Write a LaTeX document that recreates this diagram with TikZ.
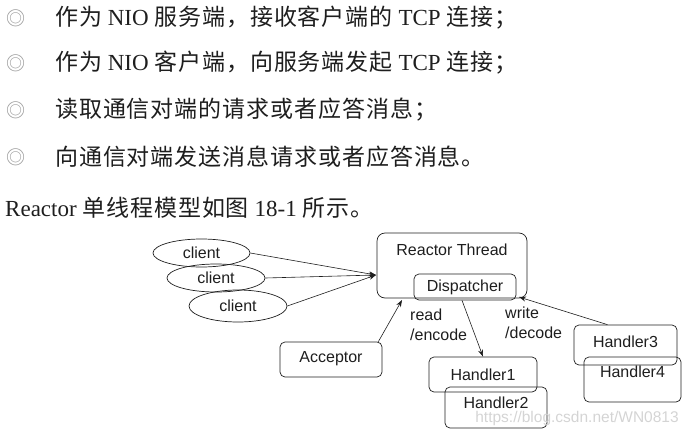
\documentclass[tikz,border=0pt]{standalone}
\usepackage{fontspec}
\setmainfont{Liberation Serif}
\newfontfamily\cjk[LetterSpace=4]{Noto Sans CJK SC}
\newfontfamily\cjkplain{Noto Sans CJK SC}
\newfontfamily\arial{Liberation Sans}
\usetikzlibrary{shapes.geometric,arrows.meta,calc}
\definecolor{ink}{HTML}{1E1E1E}
\definecolor{wm}{HTML}{D4D4D4}
\definecolor{bul}{HTML}{9A9A9A}
\tikzset{
  bodytext/.style={anchor=west, inner sep=0pt, text=ink, font=\fontsize{23}{23}\selectfont},
  bulletmark/.style={inner sep=0pt, text=bul, font=\cjkplain\fontsize{19}{19}\selectfont},
  dfont/.style={font=\arial\fontsize{16}{20}\selectfont, text=ink},
  client/.style={ellipse, draw=ink, line width=0.7pt, inner sep=0pt, dfont},
  box/.style={draw=ink, line width=0.7pt, rounded corners=5pt, inner sep=0pt, dfont},
  con/.style={draw=ink, line width=0.6pt, -{Stealth[length=7pt,width=5pt]}},
  lbl/.style={anchor=west, inner sep=0pt, align=left, dfont},
}
\begin{document}
\begin{tikzpicture}[x=1pt,y=-1pt]
\useasboundingbox (0,0) rectangle (690,434);
% bullet list
\node[bulletmark] (b1) at (16,18) {◎};
\node[bulletmark] (b2) at (16,63) {◎};
\node[bulletmark] (b3) at (16,110) {◎};
\node[bulletmark] (b4) at (16,157) {◎};
\node[bodytext] (t1) at (55,18) {{\cjk 作为} NIO {\cjk 服务端，接收客户端的} TCP {\cjk 连接；}};
\node[bodytext] (t2) at (55,63) {{\cjk 作为} NIO {\cjk 客户端，向服务端发起} TCP {\cjk 连接；}};
\node[bodytext] (t3) at (55,110) {{\cjk 读取通信对端的请求或者应答消息；}};
\node[bodytext] (t4) at (55,157) {{\cjk 向通信对端发送消息请求或者应答消息。}};
\node[bodytext] (t5) at (5,208) {Reactor {\cjk 单线程模型如图} 18-1 {\cjk 所示。}};
% diagram
\node[client, minimum width=97pt, minimum height=28pt] (c1) at (201.5,253) {client};
\node[client, minimum width=98pt, minimum height=28pt] (c2) at (216,278) {client};
\node[client, minimum width=98pt, minimum height=32pt] (c3) at (238,306) {client};
\node[box, rounded corners=8pt, minimum width=150pt, minimum height=65pt] (rt) at (452,265.5) {};
\node[dfont, inner sep=0pt] (rtl) at (452,250) {Reactor Thread};
\node[box, minimum width=102pt, minimum height=26pt] (disp) at (465,287) {Dispatcher};
\node[box, minimum width=102pt, minimum height=35pt, text depth=5pt] (acc) at (331,359.5) {Acceptor};
\node[box, minimum width=108pt, minimum height=35pt] (h1) at (483,374.5) {Handler1};
\node[box, minimum width=102pt, minimum height=41pt, text depth=10pt] (h2) at (496,407.5) {Handler2};
\node[box, minimum width=103pt, minimum height=40pt, text depth=6pt] (h3) at (625.5,345) {Handler3};
\node[box, minimum width=97pt, minimum height=45pt, text depth=15pt] (h4) at (632.5,379.5) {Handler4};
\node[lbl] (rd) at (410,325) {read\\/encode};
\node[lbl] (wr) at (505,323) {write\\/decode};
\node[inner sep=0pt, text=wm, font=\arial\fontsize{15.5}{15.5}\selectfont] (wmk) at (577,418) {https://blog.csdn.net/WN0813};
% connectors
\coordinate (rin) at (376,275);
\coordinate (rbot) at (402,300);
\coordinate (dcorner) at (519,297);
\draw[con] (c1.east) -- (rin);
\draw[con] (c2.east) -- (rin);
\draw[con] (c3.east) -- (rin);
\draw[con] ($(acc.north east)+(-4,0)$) -- (rbot);
\draw[con] ($(disp.south)+(-3,0)$) -- (h1.north);
\draw[con] ($(h3.north)+(-18,0)$) -- (dcorner);
\end{tikzpicture}
\end{document}
